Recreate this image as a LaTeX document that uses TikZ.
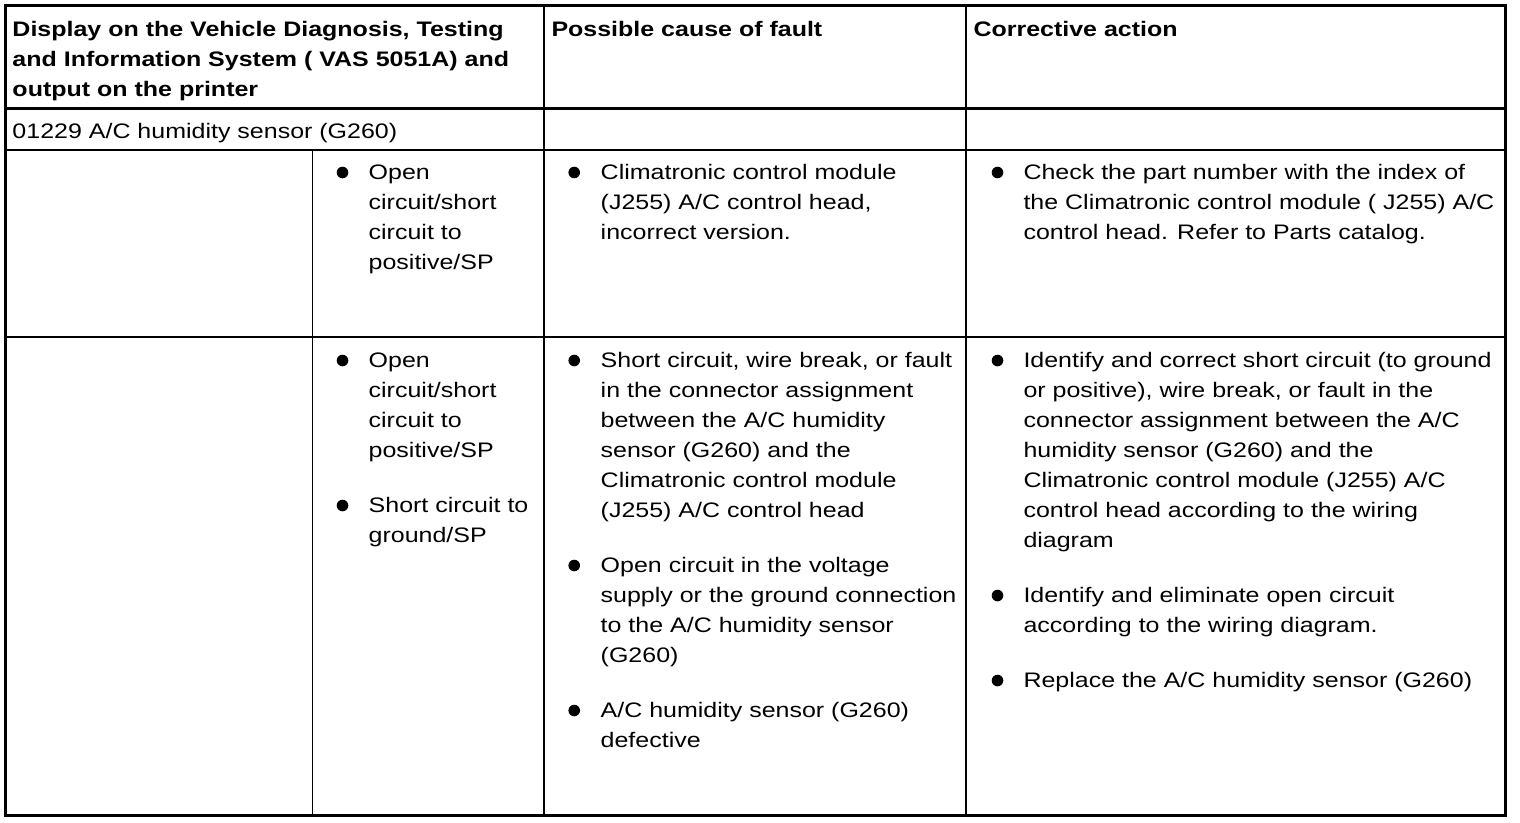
\documentclass[tikz,border=0pt]{standalone}
\usepackage{fontspec}
\setmainfont[FakeStretch=1.19]{Liberation Sans}
\newcommand\cellt[1]{\begin{tabular}[t]{@{}l@{}}#1\end{tabular}}
\tikzset{
  txt/.style={anchor=base west, inner sep=0pt, font=\fontsize{21}{30}\selectfont},
  hd/.style={txt, font=\fontsize{21}{30}\selectfont\bfseries},
  blt/.style={circle, fill=black, inner sep=0pt, minimum size=11.6pt},
  thickline/.style={line width=3.3pt},
  midline/.style={line width=2.1pt},
  thinline/.style={line width=1.6pt}
}
\begin{document}
\begin{tikzpicture}[x=1pt,y=-1pt]
\useasboundingbox (0,0) rectangle (1520,822);
\fill[white] (0,0) rectangle (1520,822);
% grid
\coordinate (TL) at (5.7,5.7);
\coordinate (BR) at (1505.7,815.3);
\draw[thickline] (TL) rectangle (BR);
\coordinate (h1) at (5.7,108.7); \coordinate (h2) at (1505.7,108.7);
\draw[line width=3pt] (h1) -- (h2);
\coordinate (r1a) at (5.7,150); \coordinate (r1b) at (1505.7,150);
\draw[thinline] (r1a) -- (r1b);
\coordinate (r2a) at (5.7,337.2); \coordinate (r2b) at (1505.7,337.2);
\draw[midline] (r2a) -- (r2b);
\coordinate (c1a) at (544.2,5.7); \coordinate (c1b) at (544.2,815.3);
\draw[midline] (c1a) -- (c1b);
\coordinate (c2a) at (966.2,5.7); \coordinate (c2b) at (966.2,815.3);
\draw[line width=2.3pt] (c2a) -- (c2b);
\coordinate (s1a) at (312.5,150); \coordinate (s1b) at (312.5,815.3);
\draw[thinline] (s1a) -- (s1b);
% header
\node[hd] (hA) at (12.3,36.5) {\cellt{Display on the Vehicle Diagnosis, Testing\\and Information System ( VAS 5051A) and\\output on the printer}};
\node[hd] (hB) at (551.3,36.5) {\cellt{Possible cause of fault}};
\node[hd] (hC) at (973.3,36.5) {\cellt{Corrective action}};
% code row
\node[txt] (code) at (12.3,138) {\cellt{01229 A/C humidity sensor (G260)}};
% row 1
\node[blt] (b1s) at (342.5,172.5) {};
\node[txt] (t1s) at (368.5,179.5) {\cellt{Open\\circuit/short\\circuit to\\positive/SP}};
\node[blt] (b1b) at (574.2,172.5) {};
\node[txt] (t1b) at (600.5,179.5) {\cellt{Climatronic control module\\(J255) A/C control head,\\incorrect version.}};
\node[blt] (b1c) at (997.5,172.5) {};
\node[txt] (t1c) at (1023.3,179.5) {\cellt{Check the part number with the index of\\the Climatronic control module ( J255) A/C\\control head. Refer to Parts catalog.}};
% row 2, sub column
\node[blt] (b2s1) at (342.5,360.5) {};
\node[txt] (t2s1) at (368.5,367.5) {\cellt{Open\\circuit/short\\circuit to\\positive/SP}};
\node[blt] (b2s2) at (342.5,505.5) {};
\node[txt] (t2s2) at (368.5,512.5) {\cellt{Short circuit to\\ground/SP}};
% row 2, cause
\node[blt] (b2b1) at (574.2,360.5) {};
\node[txt] (t2b1) at (600.5,367.5) {\cellt{Short circuit, wire break, or fault\\in the connector assignment\\between the A/C humidity\\sensor (G260) and the\\Climatronic control module\\(J255) A/C control head}};
\node[blt] (b2b2) at (574.2,565.5) {};
\node[txt] (t2b2) at (600.5,572.5) {\cellt{Open circuit in the voltage\\supply or the ground connection\\to the A/C humidity sensor\\(G260)}};
\node[blt] (b2b3) at (574.2,710.5) {};
\node[txt] (t2b3) at (600.5,717.5) {\cellt{A/C humidity sensor (G260)\\defective}};
% row 2, action
\node[blt] (b2c1) at (997.5,360.5) {};
\node[txt] (t2c1) at (1023.3,367.5) {\cellt{Identify and correct short circuit (to ground\\or positive), wire break, or fault in the\\connector assignment between the A/C\\humidity sensor (G260) and the\\Climatronic control module (J255) A/C\\control head according to the wiring\\diagram}};
\node[blt] (b2c2) at (997.5,595.5) {};
\node[txt] (t2c2) at (1023.3,602.5) {\cellt{Identify and eliminate open circuit\\according to the wiring diagram.}};
\node[blt] (b2c3) at (997.5,680.5) {};
\node[txt] (t2c3) at (1023.3,687.5) {\cellt{Replace the A/C humidity sensor (G260)}};
\end{tikzpicture}
\end{document}
